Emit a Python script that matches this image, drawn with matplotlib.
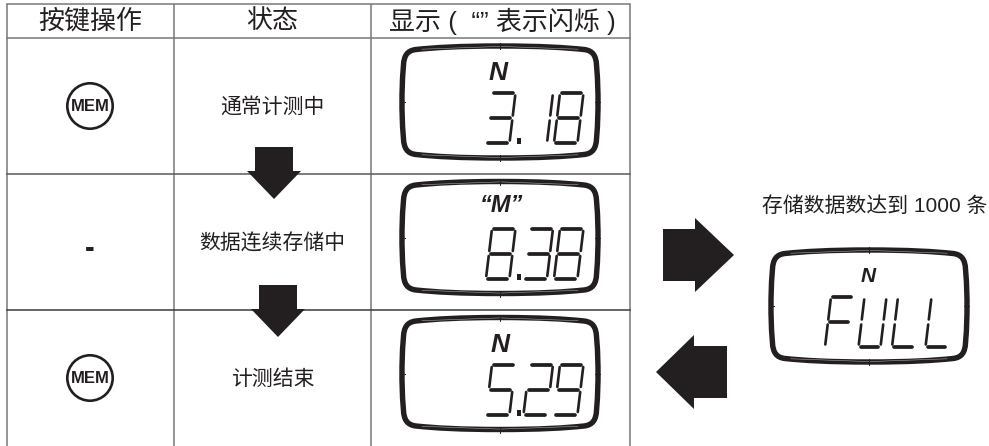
import matplotlib
matplotlib.use("Agg")
import matplotlib.pyplot as plt
from matplotlib.path import Path
from matplotlib.patches import PathPatch, Polygon, Circle

plt.rcParams['font.family'] = ['Liberation Sans', 'Noto Sans CJK SC']

encabezados = ["按键操作", "状态", "显示 (  “” 表示闪烁 )"]
estados = ["通常计测中", "数据连续存储中", "计测结束"]
teclas = ["MEM", "-", "MEM"]
lecturas = ["3.18", "8.38", "5.29"]
marcas = ["N", "“M”", "N"]
lectura_llena = "FULL"
marca_llena = "N"
aviso = "存储数据数达到 1000 条"

# en pixeles de la imagen
col_x = [7, 173.5, 371, 630]
fila_y = [4, 38, 174, 310, 446]
negro = "#231f20"
gris = "#77787b"

SEGMENTOS = {
    'a': ((0.10, 1), (0.90, 1)),
    'b': ((1, 0.95), (1, 0.55)),
    'c': ((1, 0.45), (1, 0.05)),
    'd': ((0.10, 0), (0.90, 0)),
    'e': ((0, 0.45), (0, 0.05)),
    'f': ((0, 0.95), (0, 0.55)),
    'g': ((0.10, 0.5), (0.90, 0.5)),
}
CARACTERES = {
    '1': 'bc', '2': 'abged', '3': 'abgcd', '5': 'afgcd', '8': 'abcdefg',
    '9': 'abcdfg', 'F': 'afeg', 'U': 'bcdef', 'L': 'fed',
}


def cuarto_a_marco(x0, y0):
    # esquina superior derecha, las otras salen por simetria
    cuarto = [(100, 3), (140, 3), (165, 4.5), (184, 6.5), (193, 7.5), (196, 13),
              (196.5, 22), (198, 40), (198, 50), (198, 59)]
    ver = list(cuarto)
    ver += [(x, 118 - y) for x, y in reversed(cuarto[:-1])]
    ver += [(200 - x, 118 - y) for x, y in cuarto[1:]]
    ver += [(200 - x, y) for x, y in reversed(cuarto[:-1])]
    cod = [Path.MOVETO] + [Path.CURVE4] * (len(ver) - 1)
    return Path([(x0 + x, y0 + y) for x, y in ver], cod)


def dibujar_digito(ax, c, x0, y_base, ancho):
    alto, incl = 50, 6
    for s in CARACTERES[c]:
        (u1, v1), (u2, v2) = SEGMENTOS[s]
        # los horizontales son mas gruesos que los verticales
        grosor = 2.7 if v1 == v2 else 1.9
        ax.plot([x0 + u1 * ancho + incl * v1, x0 + u2 * ancho + incl * v2],
                [y_base - v1 * alto, y_base - v2 * alto],
                color=negro, lw=grosor, solid_capstyle='round')


def dibujar_pantalla(ax, x0, y0, lectura, marca, inicio, paso, ancho, marca_x, marca_y, marca_tam):
    ax.add_patch(PathPatch(cuarto_a_marco(x0, y0), fill=False, ec=negro, lw=3.9,
                           joinstyle='round'))
    # brillo fino dentro del borde
    for y1, y2 in ((3.4, 6.2), (114.6, 111.8)):
        ax.plot([x0 + 22, x0 + 100, x0 + 178], [y0 + y2, y0 + y1, y0 + y2],
                color="white", lw=0.4, alpha=0.6)
    ax.plot([x0 + 100, x0 + 100], [y0 + 0, y0 + 6], color=negro, lw=0.7)
    ax.plot([x0 + 100, x0 + 100], [y0 + 112, y0 + 118], color=negro, lw=0.7)
    ax.plot([x0, x0 + 5], [y0 + 59, y0 + 59], color=negro, lw=0.7)
    ax.plot([x0 + 195, x0 + 200], [y0 + 59, y0 + 59], color=negro, lw=0.7)

    ax.text(marca_x, marca_y, marca, ha='center', va='center', fontsize=marca_tam,
            fontweight='bold', fontstyle='italic', color=negro)

    x = x0 + inicio
    y_base = y0 + 100
    for c in lectura:
        if c == '.':
            ax.add_patch(Polygon([(x, y_base + 1), (x + 4.5, y_base + 1),
                                  (x + 4.5, y_base - 5), (x, y_base - 5)],
                                 fc=negro, ec='none'))
            x += 7
            continue
        dibujar_digito(ax, c, x, y_base, ancho)
        x += paso


def tecla_mem(ax, cx, cy):
    ax.add_patch(Circle((cx, cy), 22.7, fill=False, ec=negro, lw=1.9))
    ax.text(cx, cy + 0.5, "MEM", ha='center', va='center', fontsize=12, fontweight='bold',
            color=negro)


fig = plt.figure(figsize=(9.89, 4.46), dpi=100)
ax = fig.add_axes([0, 0, 1, 1])
ax.set_xlim(0, 989)
ax.set_ylim(446, 0)
ax.axis('off')

# tabla
for x in col_x:
    ax.plot([x, x], [fila_y[0], fila_y[-1]], color=gris, lw=1.1, solid_capstyle='butt')
ax.plot([col_x[0], col_x[-1]], [fila_y[0], fila_y[0]], color=gris, lw=1.1)
ax.plot([col_x[0], col_x[-1]], [fila_y[1], fila_y[1]], color=gris, lw=1.1)
ax.plot([col_x[0], col_x[-1]], [fila_y[2], fila_y[2]], color="#58595b", lw=1.1)
ax.plot([col_x[0], col_x[-1]], [fila_y[3], fila_y[3]], color="#3a3a3c", lw=1.1)

centros_x = [90, 272.5, 502.5]
for x, t in zip(centros_x, encabezados):
    ax.text(x, 21.5, t, ha='center', va='center', fontsize=18.7, color=negro)

filas_cy = [106, 243, 378]
for cy, tecla, estado in zip(filas_cy, teclas, estados):
    if tecla == "MEM":
        tecla_mem(ax, 90, cy)
    else:
        ax.text(90, cy + 6, tecla, ha='center', va='center', fontsize=21, fontweight='bold', color=negro)
    ax.text(272.5, cy + 1, estado, ha='center', va='center', fontsize=15, color=negro)

# pantallas
pant_y = [43, 178.5, 314.5]
marca_pos = [(498, 73.5), (501, 205), (500, 344.5)]
marca_tam = [19, 17, 19]
for y0, lec, m, (mx, my), tam in zip(pant_y, lecturas, marcas, marca_pos, marca_tam):
    dibujar_pantalla(ax, 400, y0, lec, m, 86, 30.5, 23.5, mx, my, tam)
dibujar_pantalla(ax, 769, 247, lectura_llena, marca_llena, 56, 33.5, 22, 868, 277, 15)

ax.text(875, 206, aviso, ha='center', va='center', fontsize=15, color=negro)

# flechas
flechas = [
    [(255, 147), (293, 147), (293, 171), (301, 171), (274, 199), (247, 171), (255, 171)],
    [(259, 285), (297, 285), (297, 309), (305, 309), (278, 337), (251, 309), (259, 309)],
    [(663, 229), (695, 229), (695, 218), (734, 255), (695, 292), (695, 281), (663, 281)],
    [(727, 346), (694, 346), (694, 335), (656, 372), (694, 409), (694, 398), (727, 398)],
]
for f in flechas:
    ax.add_patch(Polygon(f, closed=True, fc=negro, ec='none', zorder=3))

fig.savefig("out.png", dpi=100)
